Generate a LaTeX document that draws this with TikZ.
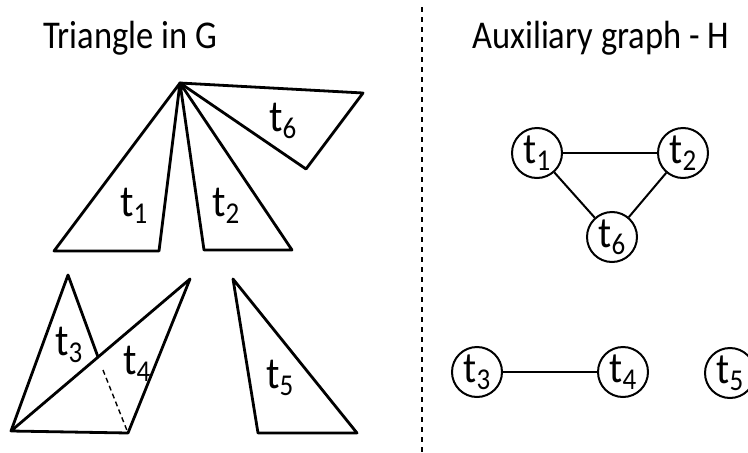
\documentclass[tikz,border=0pt]{standalone}
\usepackage{fontspec}
\setmainfont{Carlito}
% t with a large, lowered index
\newcommand{\tidx}[1]{\scalebox{1}[1.12]{t\kern-0.3pt\raisebox{-6pt}{\fontsize{27}{27}\selectfont #1}}}
\newcommand{\tallhead}[1]{\scalebox{1}[1.14]{#1}}
\tikzset{
  tri/.style={draw, line width=2.8pt, line join=round},
  lab/.style={inner sep=0pt, font=\fontsize{40}{40}\selectfont},
  title/.style={inner sep=0pt, anchor=base west, font=\fontsize{34.5}{34.5}\selectfont},
  vert/.style={circle, draw, line width=2pt, minimum size=50pt, inner sep=0pt,
               font=\fontsize{39}{39}\selectfont},
  edge/.style={line width=2pt},
}
\begin{document}
\begin{tikzpicture}[x=1pt, y=-1pt]
  \useasboundingbox (0,0) rectangle (748,453);
  \clip (0,0) rectangle (748,453);

  % headings
  \node[title] (hG) at (43,48) {\tallhead{Triangle in G}};
  \node[title] (hH) at (472,48) {\tallhead{Auxiliary graph - H}};

  % divider
  \coordinate (divtop) at (422,7);
  \coordinate (divbot) at (422,453);
  \draw[line width=1.3pt, dash pattern=on 5pt off 5pt] (divtop) -- (divbot);

  % vertices of the triangles of G
  \coordinate (apex) at (180,83);
  \coordinate (a1) at (54,251);
  \coordinate (b1) at (159,251);
  \coordinate (a2) at (204,250);
  \coordinate (b2) at (292,250);
  \coordinate (a6) at (363,93);
  \coordinate (b6) at (306,169);
  \coordinate (q) at (11,431);
  \coordinate (top3) at (68,275);
  \coordinate (mid) at (98,357);
  \coordinate (top4) at (190,279);
  \coordinate (r4) at (128,433);
  \coordinate (d4) at (103,370);
  \coordinate (top5) at (233,279);
  \coordinate (a5) at (258,433);
  \coordinate (b5) at (357,433);

  \draw[tri] (apex) -- (a1) -- (b1) -- cycle;
  \draw[tri] (apex) -- (a2) -- (b2) -- cycle;
  \draw[tri] (apex) -- (a6) -- (b6) -- cycle;
  \draw[tri] (q) -- (top3) -- (mid);
  \draw[tri] (q) -- (top4) -- (r4) -- cycle;
  \draw[line width=1.4pt, dash pattern=on 5pt off 3.5pt] (d4) -- (r4);
  \draw[tri] (top5) -- (a5) -- (b5) -- cycle;

  % triangle names
  \node[lab] (l1) at (134,206) {\tidx{1}};
  \node[lab] (l2) at (226,206) {\tidx{2}};
  \node[lab] (l6) at (283,121) {\tidx{6}};
  \node[lab] (l3) at (69,345) {\tidx{3}};
  \node[lab] (l4) at (137,364) {\tidx{4}};
  \node[lab] (l5) at (280,378) {\tidx{5}};

  % auxiliary graph H
  \node[vert] (t1) at (537,153) {\tidx{1}};
  \node[vert] (t2) at (683,153) {\tidx{2}};
  \node[vert] (t6) at (612,237) {\tidx{6}};
  \node[vert] (t3) at (477,372) {\tidx{3}};
  \node[vert] (t4) at (623,372) {\tidx{4}};
  \node[vert] (t5) at (730,373) {\tidx{5}};

  \draw[edge] (t1) -- (t2);
  \draw[edge] (t1) -- (t6);
  \draw[edge] (t2) -- (t6);
  \draw[edge] (t3) -- (t4);
\end{tikzpicture}
\end{document}
